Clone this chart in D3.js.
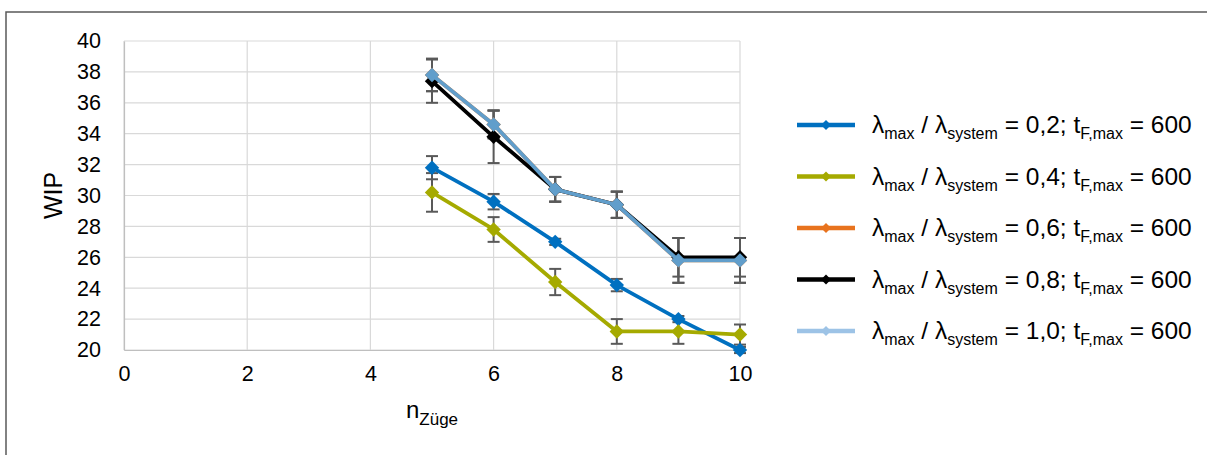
<!DOCTYPE html>
<html>
<head>
<meta charset="utf-8">
<script src="https://cdn.jsdelivr.net/npm/d3@7"></script>
<style>
  html, body { margin: 0; padding: 0; background: #fff; }
  svg { display: block; font-family: "Liberation Sans", Arial, sans-serif; }
</style>
</head>
<body>
<svg id="chart" width="1207" height="455"></svg>
<script>
// ---- data ----
const xValues = [5, 6, 7, 8, 9, 10];
const seriesNames = ["0,2", "0,4", "0,6", "0,8", "1,0"];
const wip02 = [31.8, 29.6, 27.0, 24.2, 22.0, 20.0];
const wip04 = [30.2, 27.8, 24.4, 21.2, 21.2, 21.0];
const wip06 = [37.8, 34.6, 30.4, 29.4, 25.8, 25.8];
const wip08 = [37.4, 33.8, 30.4, 29.4, 26.0, 26.0];
const wip10 = [37.8, 34.6, 30.4, 29.4, 25.8, 25.8];
const err02 = [0.75, 0.5, 0.2, 0.4, 0.2, 0.2];
const err04 = [1.25, 0.8, 0.85, 0.8, 0.8, 0.65];
const err06 = [1.05, 0.9, 0.8, 0.85, 1.45, 1.45];
const err08 = [1.4, 1.7, 0.8, 0.85, 1.25, 1.25];
const err10 = [1.05, 0.9, 0.8, 0.85, 1.45, 1.45];
const xTicks = [0, 2, 4, 6, 8, 10];
const yTicks = [20, 22, 24, 26, 28, 30, 32, 34, 36, 38, 40];

const lineColors = ["#0070C0", "#A5AA00", "#E8731E", "#000000", "#619ECB"];
const legendColors = ["#0070C0", "#A5AA00", "#E8731E", "#000000", "#9DC3E6"];

const series = [wip02, wip04, wip06, wip08, wip10].map((v, i) => ({
  name: seriesNames[i],
  values: v,
  errs: [err02, err04, err06, err08, err10][i],
  color: lineColors[i],
  legendColor: legendColors[i]
}));

// ---- layout ----
const svg = d3.select("#chart");
const pL = 124, pR = 740, pT = 41, pB = 350;
const x = d3.scaleLinear().domain([0, 10]).range([pL, pR]);
const y = d3.scaleLinear().domain([20, 40]).range([pB, pT]);

// outer border
svg.append("rect")
  .attr("x", 6).attr("y", 12).attr("width", 1220).attr("height", 460)
  .attr("fill", "none").attr("stroke", "#595959").attr("stroke-width", 1.5);

// gridlines
svg.append("g").selectAll("line").data(yTicks).join("line")
  .attr("x1", pL).attr("x2", pR)
  .attr("y1", d => y(d)).attr("y2", d => y(d))
  .attr("stroke", "#d9d9d9").attr("stroke-width", 1.2);
svg.append("g").selectAll("line").data(xTicks).join("line")
  .attr("y1", pT).attr("y2", pB)
  .attr("x1", d => x(d)).attr("x2", d => x(d))
  .attr("stroke", "#d9d9d9").attr("stroke-width", 1.2);

// axes
const xAxis = d3.axisBottom(x).tickValues(xTicks).tickSize(0).tickPadding(12).tickFormat(d3.format("d"));
const yAxis = d3.axisLeft(y).tickValues(yTicks).tickSize(0).tickPadding(23).tickFormat(d3.format("d"));
const gx = svg.append("g").attr("transform", `translate(0,${pB})`).call(xAxis);
const gy = svg.append("g").attr("transform", `translate(${pL},0)`).call(yAxis);
[gx, gy].forEach(g => {
  g.select(".domain").attr("stroke", "#bfbfbf").attr("stroke-width", 1.2);
  g.selectAll("text").attr("font-family", "Liberation Sans, Arial, sans-serif")
    .attr("font-size", 21.5).attr("fill", "#000");
});
gx.selectAll("text").attr("dy", "0.9em");

// axis titles
svg.append("text")
  .attr("transform", `translate(62,${(pT + pB) / 2}) rotate(-90)`)
  .attr("text-anchor", "middle").attr("font-size", 25).text("WIP");
const xt = svg.append("text").attr("x", (pL + pR) / 2).attr("y", 418)
  .attr("text-anchor", "middle").attr("font-size", 24);
xt.append("tspan").text("n");
xt.append("tspan").attr("font-size", 17).attr("dy", 7).text("Züge");

// error bars
const eg = svg.append("g");
series.forEach(s => {
  xValues.forEach((xv, i) => {
    const cx = x(xv), y1 = y(s.values[i] + s.errs[i]), y2 = y(s.values[i] - s.errs[i]);
    eg.append("line").attr("x1", cx).attr("x2", cx).attr("y1", y1).attr("y2", y2)
      .attr("stroke", "#595959").attr("stroke-width", 2);
    [y1, y2].forEach(yy => eg.append("line")
      .attr("x1", cx - 6).attr("x2", cx + 6).attr("y1", yy).attr("y2", yy)
      .attr("stroke", "#595959").attr("stroke-width", 2));
  });
});

// lines and markers
const line = d3.line().x(d => x(d[0])).y(d => y(d[1]));
const diamond = (cx, cy, r) => `M${cx},${cy - r}L${cx + r},${cy}L${cx},${cy + r}L${cx - r},${cy}Z`;
series.forEach(s => {
  const pts = xValues.map((xv, i) => [xv, s.values[i]]);
  svg.append("path").datum(pts).attr("d", line)
    .attr("fill", "none").attr("stroke", s.color).attr("stroke-width", 3.8)
    .attr("stroke-linejoin", "round");
  svg.append("g").selectAll("path").data(pts).join("path")
    .attr("d", d => diamond(x(d[0]), y(d[1]), 7.2))
    .attr("fill", s.color);
});

// legend
const lg = svg.append("g");
series.forEach((s, i) => {
  const ly = 125 + i * 51.5;
  lg.append("line").attr("x1", 797).attr("x2", 855).attr("y1", ly).attr("y2", ly)
    .attr("stroke", s.legendColor).attr("stroke-width", 4.5);
  lg.append("path").attr("d", diamond(826, ly, 5)).attr("fill", s.legendColor);
  const t = lg.append("text").attr("x", 872).attr("y", ly + 8).attr("font-size", 24.5).attr("fill", "#000");
  t.append("tspan").text("λ");
  t.append("tspan").attr("font-size", 16).attr("dy", 6).text("max");
  t.append("tspan").attr("dy", -6).text(" / λ");
  t.append("tspan").attr("font-size", 16).attr("dy", 6).text("system");
  t.append("tspan").attr("dy", -6).text(` = ${s.name}; t`);
  t.append("tspan").attr("font-size", 16).attr("dy", 6).text("F,max");
  t.append("tspan").attr("dy", -6).text(" = 600");
});
</script>
</body>
</html>
